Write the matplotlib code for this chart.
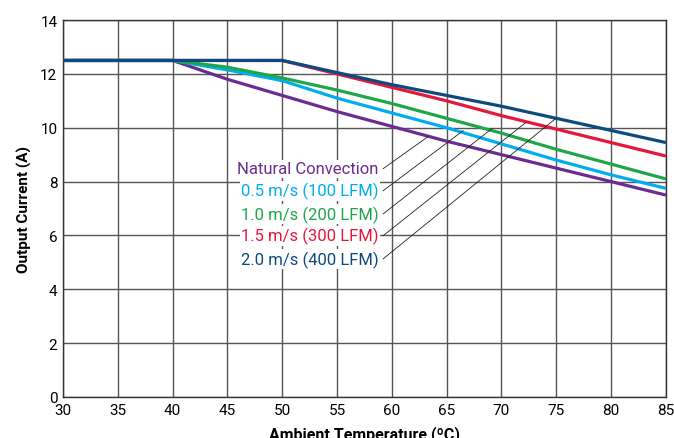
import matplotlib.pyplot as plt
from matplotlib import font_manager

# Derating curves: output current vs ambient temperature
temps = [30, 35, 40, 45, 50, 55, 60, 65, 70, 75, 80, 85]
natural = [12.5, 12.5, 12.5, 11.8, 11.2, 10.6, 10.05, 9.5, 9.0, 8.5, 8.0, 7.5]
ms05 = [12.5, 12.5, 12.5, 12.15, 11.75, 11.1, 10.55, 10.0, 9.4, 8.8, 8.25, 7.75]
ms10 = [12.5, 12.5, 12.5, 12.25, 11.85, 11.4, 10.9, 10.35, 9.8, 9.2, 8.65, 8.1]
ms15 = [12.5, 12.5, 12.5, 12.5, 12.5, 12.0, 11.5, 11.0, 10.45, 9.95, 9.45, 8.95]
ms20 = [12.5, 12.5, 12.5, 12.5, 12.5, 12.05, 11.6, 11.2, 10.8, 10.35, 9.9, 9.45]

labels = ["Natural Convection", "0.5 m/s (100 LFM)", "1.0 m/s (200 LFM)",
          "1.5 m/s (300 LFM)", "2.0 m/s (400 LFM)"]
colors = ["#6A2C91", "#00AEEF", "#1FA64A", "#E4183C", "#0D4A80"]

# leader lines: label anchor y and point on curve
label_y = [8.48, 7.66, 6.80, 5.99, 5.13]
leader_end_x = [63.3, 66.5, 69.1, 72.2, 74.9]
leader_end_y = [9.67, 9.89, 9.96, 10.19, 10.33]

names = {f.name for f in font_manager.fontManager.ttflist}
fam = "Liberation Sans Narrow" if "Liberation Sans Narrow" in names else "Roboto"
plt.rcParams['font.family'] = [fam, 'DejaVu Sans']

fig = plt.figure(figsize=(6.74, 4.39), dpi=100)
ax = fig.add_axes([0.0935, 0.0934, 0.8945, 0.8586])

series = [natural, ms05, ms10, ms15, ms20]
for vals, c in zip(series, colors):
    ax.plot(temps, vals, color=c, lw=2.3, solid_capstyle='butt', zorder=3)

for ly, ex, ey, lab, c in zip(label_y, leader_end_x, leader_end_y, labels, colors):
    ax.plot([59.2, ex], [ly, ey], color='#222222', lw=0.6, zorder=4)
    ax.text(58.8, ly, lab, color=c, fontsize=12, ha='right', va='center',
            zorder=5, bbox=dict(facecolor='white', edgecolor='none', pad=1.0))

ax.set_xlim(30, 85)
ax.set_ylim(0, 14)
ax.set_xticks(range(30, 86, 5))
ax.set_yticks(range(0, 15, 2))
ax.grid(True, color='#555555', lw=1.0)
ax.set_axisbelow(True)
ax.tick_params(length=0, labelsize=11, pad=4)
for s in ax.spines.values():
    s.set_color('#333333')
    s.set_linewidth(1.0)

ax.set_ylabel("Output Current (A)", fontsize=11, fontweight='bold', labelpad=6)
ax.set_xlabel("Ambient Temperature (ºC)", fontsize=11.5, fontweight='bold', labelpad=6)

fig.savefig("out.png", dpi=100)
